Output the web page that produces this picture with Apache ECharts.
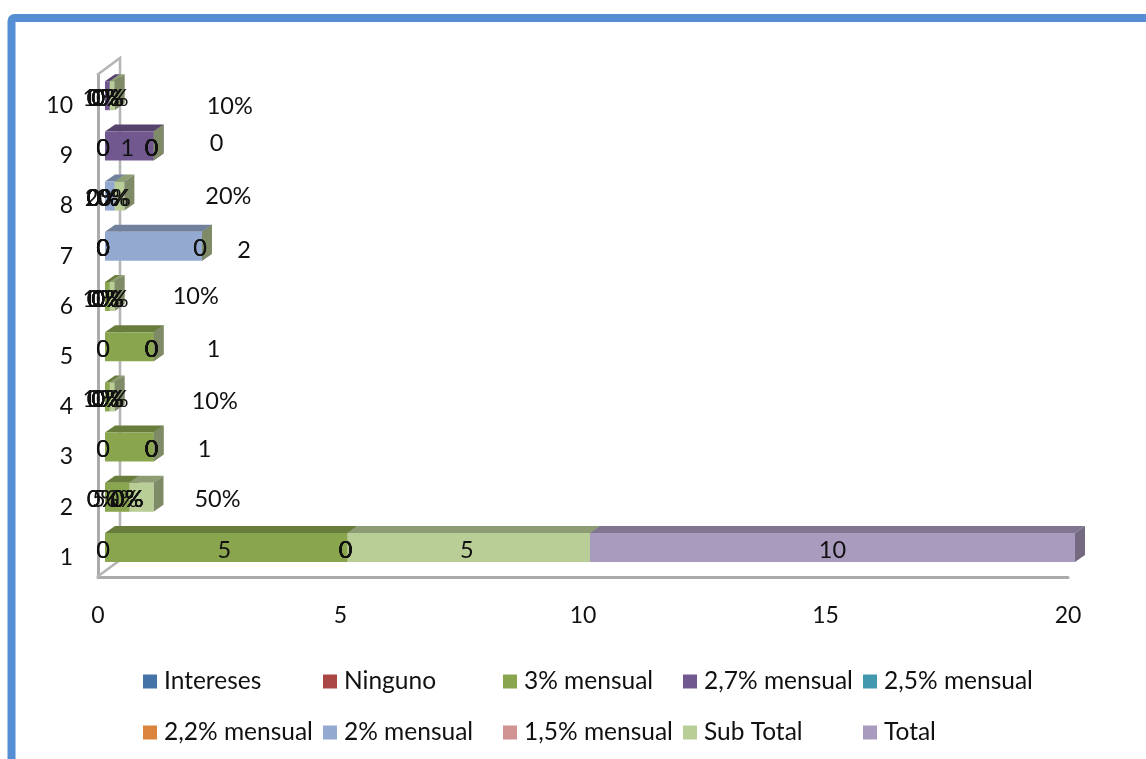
<!DOCTYPE html>
<html>
<head>
<meta charset="utf-8">
<style>html,body{margin:0;padding:0;background:#fff;overflow:hidden}#c{width:1146px;height:759px}</style>
<script src="https://cdn.jsdelivr.net/npm/echarts@6/dist/echarts.min.js"></script>
</head>
<body>
<div id="c"></div>
<script>
// ---- data ----
var categories = ['1','2','3','4','5','6','7','8','9','10'];
var valueTicks = [0,5,10,15,20];
var intereses  = [0,0,0,0,0,0,0,0,0,0];
var ninguno    = [0,0,0,0,0,0,0,0,0,0];
var m30        = [5,0.5,1,0.1,1,0.1,0,0,0,0];
var m27        = [0,0,0,0,0,0,0,0,1,0.1];
var m25        = [0,0,0,0,0,0,0,0,0,0];
var m22        = [0,0,0,0,0,0,0,0,0,0];
var m20        = [0,0,0,0,0,0,2,0.2,0,0];
var m15        = [0,0,0,0,0,0,0,0,0,0];
var subTotal   = [5,0.5,0,0.1,0,0.1,0,0.2,0,0.1];
var total      = [10,0,0,0,0,0,0,0,0,0];
var totalLabels = ['10','50%','1','10%','1','10%','2','20%','0','10%'];
var percentRows = [false,true,false,true,false,true,false,true,false,true];
var seriesNames = ['Intereses','Ninguno','3% mensual','2,7% mensual','2,5% mensual','2,2% mensual','2% mensual','1,5% mensual','Sub Total','Total'];
var seriesValues = [intereses,ninguno,m30,m27,m25,m22,m20,m15,subTotal,total];

// ---- style ----
var colors = ['#4572a7','#aa4643','#89a54e','#71588f','#4198af','#db843d','#93a9cf','#d19392','#b9cd96','#a99bbd'];
var FONT = 'Lato';
var TEXT = '#111';
var FS = 23.5;
var DEPTH_X = 10, DEPTH_Y = 7, FRONT_H = 29, BAR_DX = 7, BAR_DY = -4.4;
var totalLabelNudge = [[0,0],[64,0],[51,0],[100,2],[60,0],[81,-3],[42,2],[104,-2],[63,-5],[115,8]];
var legendCols = [143,323,503,683,863];
var legendRows = [669,720];

function shade(hex, f){
  var n = parseInt(hex.slice(1),16);
  return 'rgb(' + [(n>>16)&255,(n>>8)&255,n&255].map(function(v){return Math.round(v*f);}).join(',') + ')';
}
function fmt(v, row){
  return percentRows[row] ? Math.round(v*100) + '%' : String(v);
}
function labelHidden(si, row){
  if (si === 8 && percentRows[row]) return true;          // Sub Total label not shown on percent rows
  if ((si === 2 && (row === 2 || row === 4)) || (si === 6 && row === 6)) return true;
  return false;
}

function makeSeries(si){
  var vals = seriesValues[si];
  var data = vals.map(function(v,row){
    var start = 0;
    for (var k=0;k<si;k++) start += seriesValues[k][row];
    return [start,row,start+v];
  });
  return {
    name: seriesNames[si],
    type: 'custom',
    coordinateSystem: 'cartesian2d',
    clip: false,
    itemStyle: {color: colors[si]},
    encode: {x:[0,2], y:1},
    data: data,
    renderItem: function(params, api){
      var row = api.value(1);
      var a = api.coord([api.value(0),row]);
      var b = api.coord([api.value(2),row]);
      var x0 = a[0]+BAR_DX, x1 = b[0]+BAR_DX;
      var yc = a[1]+BAR_DY, yt = yc-FRONT_H/2, yb = yc+FRONT_H/2;
      var kids = [];
      var c = colors[si];
      var isSub = si === 8;
      if (x1-x0 > 0.01){
        kids.push({type:'polygon',z2:1,shape:{points:[[x0,yt],[x1,yt],[x1+DEPTH_X,yt-DEPTH_Y],[x0+DEPTH_X,yt-DEPTH_Y]]},style:{fill:shade(c,0.76)}});
      }
      if (x1-x0 > 0.01 || isSub){
        kids.push({type:'polygon',z2:1,shape:{points:[[x1,yt],[x1+DEPTH_X,yt-DEPTH_Y],[x1+DEPTH_X,yb-DEPTH_Y],[x1,yb]]},style:{fill:shade(c,0.68)}});
      }
      if (x1-x0 > 0.01){
        kids.push({type:'rect',z2:2,shape:{x:x0,y:yt,width:x1-x0,height:FRONT_H},style:{fill:c}});
      }
      var isTotal = si === 9;
      var tx = (x0+x1)/2 - 2, ty = yc + 2.5;
      var txt = fmt(api.value(2)-api.value(0), row);
      if (isTotal){
        txt = totalLabels[row];
        tx += totalLabelNudge[row][0] + 2;
        ty += totalLabelNudge[row][1];
      }
      if (!labelHidden(si,row)){
        kids.push({type:'text',z2:50,style:{text:txt,x:tx,y:ty,align:'center',verticalAlign:'middle',fill:TEXT,font:FS+'px '+FONT}});
      }
      return {type:'group',children:kids};
    }
  };
}

function makeLegend(name, i){
  return {
    data: [name],
    left: legendCols[i%5], top: legendRows[Math.floor(i/5)],
    padding: 0,
    itemGap: 0, itemWidth: 14, itemHeight: 14,
    icon: 'rect',
    selectedMode: false,
    textStyle: {fontFamily:FONT,fontSize:24.5,color:TEXT,padding:[0,0,0,2]}
  };
}

var chart = echarts.init(document.getElementById('c'),null,{renderer:'canvas'});
chart.setOption({
  animation:false,
  backgroundColor:'#fff',
  textStyle:{fontFamily:FONT},
  grid:{left:98,right:78,top:75,bottom:182,containLabel:false},
  xAxis:{type:'value',min:valueTicks[0],max:valueTicks[valueTicks.length-1],interval:5,
    splitLine:{show:false},axisTick:{show:false},
    axisLine:{show:true,lineStyle:{color:'#ababab',width:3}},
    axisLabel:{color:TEXT,fontSize:23,fontFamily:FONT,margin:27,hideOverlap:false,showMinLabel:true,showMaxLabel:true}},
  yAxis:{type:'category',data:categories,
    axisTick:{show:false},splitLine:{show:false},
    axisLine:{show:true,onZero:false,lineStyle:{color:'#ababab',width:3}},
    axisLabel:{color:TEXT,fontSize:23,fontFamily:FONT,margin:25,verticalAlign:'top',lineHeight:11,interval:0}},
  legend:seriesNames.map(makeLegend),
  graphic:[
    {type:'polyline',z:1,silent:true,shape:{points:[[97,577],[120,560],[120,58],[97,75]]},style:{fill:null,stroke:'#b5b5b5',lineWidth:2.5}},
    {type:'rect',z:0,silent:true,shape:{x:11.5,y:18,width:1200,height:800,r:3},style:{fill:null,stroke:'#558ed5',lineWidth:8}}
  ],
  series:seriesValues.map(function(_,i){return makeSeries(i);})
});
</script>
</body>
</html>
